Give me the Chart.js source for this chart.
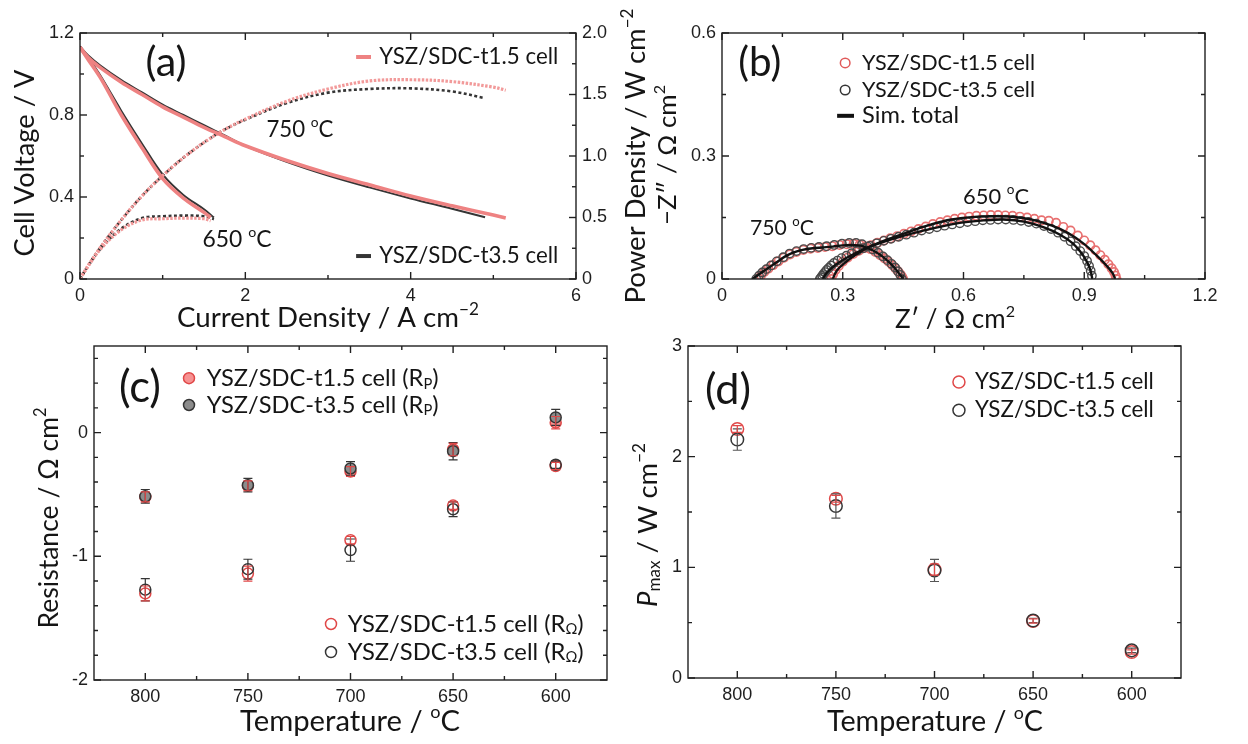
<!DOCTYPE html>
<html>
<head>
<meta charset="utf-8">
<script src="https://cdn.jsdelivr.net/npm/chart.js@4.4.0/dist/chart.umd.min.js"></script>
<style>
  html, body { margin: 0; padding: 0; background: #fff; }
  #page { position: relative; width: 1248px; height: 744px; overflow: hidden; }
  canvas { position: absolute; }
</style>
</head>
<body>
<div id="page">
  <canvas id="cvA" width="650" height="340" style="left:0px;top:0px"></canvas>
  <canvas id="cvB" width="598" height="340" style="left:650px;top:0px"></canvas>
  <canvas id="cvC" width="620" height="414" style="left:0px;top:330px"></canvas>
  <canvas id="cvD" width="628" height="414" style="left:620px;top:330px"></canvas>
</div>
<script>
// DADOS (a) - CURVAS I-V-P
const curA750t15 = [0, 0.1, 0.25, 0.5, 0.75, 1.0, 1.25, 1.5, 1.75, 2.0, 2.5, 3.0, 3.5, 4.0, 4.5, 5.0, 5.15];
const voltA750t15 = [1.13, 1.08, 1.03, 0.96, 0.90, 0.84, 0.79, 0.74, 0.695, 0.65, 0.578, 0.515, 0.46, 0.405, 0.357, 0.312, 0.298];
const powA750t15 = [0, 0.11, 0.26, 0.48, 0.675, 0.84, 0.985, 1.11, 1.215, 1.30, 1.445, 1.545, 1.61, 1.62, 1.605, 1.56, 1.535];

const curA750t35 = [0, 0.1, 0.25, 0.5, 0.75, 1.0, 1.25, 1.5, 1.75, 2.0, 2.5, 3.0, 3.5, 4.0, 4.5, 4.9];
const voltA750t35 = [1.135, 1.09, 1.04, 0.97, 0.91, 0.85, 0.80, 0.75, 0.70, 0.65, 0.572, 0.505, 0.447, 0.393, 0.343, 0.301];
const powA750t35 = [0, 0.11, 0.26, 0.48, 0.675, 0.84, 0.985, 1.11, 1.215, 1.295, 1.43, 1.515, 1.545, 1.55, 1.525, 1.47];

const curA650t15 = [0, 0.1, 0.25, 0.5, 0.75, 1.0, 1.25, 1.5, 1.58];
const voltA650t15 = [1.13, 1.07, 0.98, 0.80, 0.64, 0.49, 0.395, 0.325, 0.30];
const powA650t15 = [0, 0.107, 0.245, 0.40, 0.48, 0.49, 0.495, 0.49, 0.474];

const curA650t35 = [0, 0.1, 0.25, 0.5, 0.75, 1.0, 1.25, 1.5, 1.62];
const voltA650t35 = [1.135, 1.08, 0.99, 0.82, 0.66, 0.51, 0.41, 0.34, 0.30];
const powA650t35 = [0, 0.108, 0.248, 0.41, 0.495, 0.51, 0.515, 0.51, 0.486];

// DADOS (b) - NYQUIST
const zreB750t15 = [0.09, 0.097, 0.105, 0.115, 0.127, 0.14, 0.154, 0.169, 0.185, 0.202, 0.22, 0.238, 0.256, 0.274, 0.292, 0.31, 0.327, 0.342, 0.356, 0.369, 0.381, 0.393, 0.404, 0.414, 0.423, 0.431, 0.438, 0.444, 0.448, 0.45];
const zimB750t15 = [0, 0.009, 0.017, 0.025, 0.034, 0.043, 0.052, 0.06, 0.066, 0.071, 0.074, 0.076, 0.078, 0.08, 0.083, 0.085, 0.086, 0.084, 0.079, 0.073, 0.066, 0.058, 0.05, 0.042, 0.034, 0.026, 0.018, 0.011, 0.005, 0];
const zreB750t35 = [0.085, 0.092, 0.1, 0.11, 0.122, 0.136, 0.152, 0.168, 0.185, 0.203, 0.222, 0.241, 0.26, 0.279, 0.298, 0.316, 0.333, 0.348, 0.362, 0.375, 0.388, 0.4, 0.411, 0.421, 0.43, 0.437, 0.443, 0.447];
const zimB750t35 = [0, 0.008, 0.016, 0.024, 0.033, 0.043, 0.053, 0.062, 0.068, 0.073, 0.076, 0.078, 0.08, 0.083, 0.086, 0.088, 0.088, 0.085, 0.079, 0.072, 0.064, 0.055, 0.046, 0.037, 0.028, 0.019, 0.01, 0];
const zreB650t15 = [0.272, 0.276, 0.282, 0.29, 0.30, 0.312, 0.326, 0.34, 0.355, 0.37, 0.386, 0.402, 0.418, 0.435, 0.452, 0.47, 0.488, 0.506, 0.524, 0.542, 0.56, 0.578, 0.596, 0.614, 0.632, 0.65, 0.668, 0.686, 0.704, 0.722, 0.74, 0.758, 0.776, 0.794, 0.812, 0.83, 0.848, 0.866, 0.884, 0.9, 0.915, 0.928, 0.94, 0.951, 0.96, 0.968, 0.974, 0.978, 0.98];
const zimB650t15 = [0, 0.012, 0.022, 0.032, 0.042, 0.052, 0.061, 0.069, 0.076, 0.082, 0.088, 0.094, 0.099, 0.104, 0.11, 0.116, 0.122, 0.128, 0.134, 0.139, 0.143, 0.147, 0.15, 0.152, 0.154, 0.155, 0.156, 0.156, 0.155, 0.154, 0.152, 0.15, 0.147, 0.143, 0.142, 0.137, 0.127, 0.118, 0.106, 0.094, 0.082, 0.07, 0.058, 0.047, 0.036, 0.026, 0.017, 0.008, 0];
const zreB650t35 = [0.243, 0.246, 0.249, 0.252, 0.256, 0.26, 0.265, 0.271, 0.278, 0.287, 0.297, 0.309, 0.322, 0.336, 0.351, 0.367, 0.384, 0.402, 0.42, 0.439, 0.458, 0.477, 0.496, 0.515, 0.534, 0.553, 0.572, 0.591, 0.61, 0.629, 0.648, 0.667, 0.686, 0.705, 0.724, 0.743, 0.762, 0.781, 0.8, 0.818, 0.835, 0.851, 0.866, 0.879, 0.89, 0.9, 0.907, 0.912, 0.916, 0.919];
const zimB650t35 = [0, 0.004, 0.008, 0.012, 0.017, 0.022, 0.027, 0.033, 0.039, 0.045, 0.051, 0.057, 0.063, 0.069, 0.075, 0.081, 0.087, 0.093, 0.098, 0.103, 0.108, 0.113, 0.118, 0.122, 0.126, 0.13, 0.133, 0.136, 0.139, 0.141, 0.143, 0.144, 0.145, 0.145, 0.144, 0.142, 0.139, 0.135, 0.129, 0.122, 0.113, 0.103, 0.092, 0.08, 0.068, 0.056, 0.044, 0.032, 0.02, 0.008];
const simReB750 = [0.075, 0.082, 0.09, 0.1, 0.115, 0.135, 0.155, 0.175, 0.2, 0.225, 0.25, 0.275, 0.3, 0.32, 0.34, 0.355, 0.37, 0.385, 0.4, 0.415, 0.428, 0.438, 0.446, 0.45];
const simImB750 = [0, 0.004, 0.01, 0.017, 0.027, 0.04, 0.054, 0.064, 0.071, 0.075, 0.077, 0.079, 0.082, 0.083, 0.082, 0.078, 0.072, 0.064, 0.054, 0.041, 0.028, 0.016, 0.006, 0];
const simReB650t15 = [0.275, 0.285, 0.30, 0.33, 0.37, 0.42, 0.47, 0.52, 0.57, 0.62, 0.67, 0.72, 0.77, 0.82, 0.86, 0.90, 0.93, 0.955, 0.97, 0.977];
const simImB650t15 = [0, 0.02, 0.035, 0.058, 0.08, 0.1, 0.117, 0.133, 0.145, 0.151, 0.153, 0.152, 0.145, 0.13, 0.112, 0.085, 0.058, 0.033, 0.015, 0];
const simReB650t35 = [0.25, 0.26, 0.28, 0.31, 0.35, 0.40, 0.45, 0.50, 0.55, 0.60, 0.65, 0.70, 0.75, 0.80, 0.84, 0.87, 0.89, 0.905, 0.915, 0.92];
const simImB650t35 = [0, 0.015, 0.033, 0.052, 0.072, 0.09, 0.105, 0.118, 0.129, 0.138, 0.143, 0.145, 0.14, 0.126, 0.108, 0.088, 0.067, 0.045, 0.023, 0];

// DADOS (c) - RESISTENCIAS
const tempC = [800, 750, 700, 650, 600];
const rpC_t15 = [-0.52, -0.43, -0.315, -0.137, 0.08];
const rpErrC_t15 = [0.04, 0.04, 0.04, 0.05, 0.05];
const rpC_t35 = [-0.515, -0.425, -0.29, -0.15, 0.123];
const rpErrC_t35 = [0.055, 0.055, 0.055, 0.07, 0.065];
const rohmC_t15 = [-1.30, -1.14, -0.87, -0.59, -0.27];
const rohmErrC_t15 = [0.06, 0.06, 0.03, 0.03, 0.03];
const rohmC_t35 = [-1.27, -1.104, -0.95, -0.62, -0.26];
const rohmErrC_t35 = [0.09, 0.08, 0.09, 0.06, 0.03];

// DADOS (d) - POTENCIA MAXIMA
const tempD = [800, 750, 700, 650, 600];
const pmaxD_t15 = [2.25, 1.62, 0.98, 0.515, 0.235];
const pmaxErrD_t15 = [0.03, 0.03, 0.05, 0.02, 0.02];
const pmaxD_t35 = [2.155, 1.554, 0.972, 0.52, 0.25];
const pmaxErrD_t35 = [0.097, 0.11, 0.1, 0.02, 0.02];

// TICKS
const ticksA_x = [0, 2, 4, 6];
const minorA_x = [1, 3, 5];
const ticksA_y = [0, 0.4, 0.8, 1.2];
const minorA_y = [0.2, 0.6, 1.0];
const ticksA_y2 = [0, 0.5, 1.0, 1.5, 2.0];
const minorA_y2 = [0.25, 0.75, 1.25, 1.75];
const ticksB_x = [0, 0.3, 0.6, 0.9, 1.2];
const minorB_x = [0.15, 0.45, 0.75, 1.05];
const ticksB_y = [0, 0.3, 0.6];
const minorB_y = [0.15, 0.45];
const ticksT = [800, 750, 700, 650, 600];
const minorT = [775, 725, 675, 625];
const ticksC_y = [0, -1, -2];
const minorC_y = [0.6, 0.4, 0.2, -0.2, -0.4, -0.6, -0.8, -1.2, -1.4, -1.6, -1.8];
const ticksD_y = [0, 1, 2, 3];
const minorD_y = [0.5, 1.5, 2.5];

// ESTILO
const PINK = "#ee8282";
const PINK_PW = "#f29a9a";
const PINK_PT = "#e87070";
const RED = "#e04848";
const DARK = "#353535";
const GRAY_FILL = "#8c8c8c";
const TXT = "#151515";
const TEXT_FONT = "Lato, 'Liberation Sans', sans-serif";
const TICK_FONT = "'Liberation Sans', Arial, sans-serif";
const ROT = -Math.PI / 2;

function pts(xs, ys) {
  return xs.map((x, i) => ({ x: x, y: ys[i] }));
}

function fmt1(v) {
  return v === 0 ? "0" : v.toFixed(1);
}

// TEXTO COM SOBRESCRITO / SUBSCRITO
function partFont(kind, size) {
  const s = kind === "sup" || kind === "sub" ? size * 0.62 : size;
  const it = kind === "i" ? "italic " : "";
  return it + s.toFixed(2) + "px " + TEXT_FONT;
}

function richWidth(ctx, parts, size) {
  let w = 0;
  for (const [t, k] of parts) {
    ctx.font = partFont(k, size);
    w += ctx.measureText(t).width;
  }
  return w;
}

function drawRich(ctx, item, x, y) {
  let size = 20;
  size = (size * item.width) / richWidth(ctx, item.parts, size);
  const w = richWidth(ctx, item.parts, size);
  ctx.save();
  ctx.translate(x, y);
  if (item.rotate) ctx.rotate(item.rotate);
  let cx = item.align === "left" ? 0 : -w / 2;
  ctx.fillStyle = TXT;
  ctx.textBaseline = "middle";
  ctx.textAlign = "left";
  for (const [t, k] of item.parts) {
    ctx.font = partFont(k, size);
    const dy = k === "sup" ? -size * 0.32 : k === "sub" ? size * 0.24 : 0;
    ctx.fillText(t, cx, dy);
    cx += ctx.measureText(t).width;
  }
  ctx.restore();
}

function drawSymbol(ctx, chart, sym, y) {
  const xs = chart.scales.x;
  ctx.save();
  if (sym.type === "line") {
    ctx.strokeStyle = sym.color;
    ctx.lineWidth = sym.lw;
    ctx.beginPath();
    ctx.moveTo(xs.getPixelForValue(sym.x0), y);
    ctx.lineTo(xs.getPixelForValue(sym.x1), y);
    ctx.stroke();
  } else {
    ctx.beginPath();
    ctx.arc(xs.getPixelForValue(sym.x), y, sym.r, 0, Math.PI * 2);
    if (sym.fill) {
      ctx.fillStyle = sym.fill;
      ctx.fill();
    }
    ctx.strokeStyle = sym.color;
    ctx.lineWidth = 1.5;
    ctx.stroke();
  }
  ctx.restore();
}

// PLUGIN: MOLDURA, TICKS PARA DENTRO, BARRAS DE ERRO, TEXTOS
const panelPlugin = {
  id: "panel",
  afterDatasetsDraw(chart) {
    const ctx = chart.ctx;
    chart.data.datasets.forEach((ds, i) => {
      if (!ds.errors) return;
      const meta = chart.getDatasetMeta(i);
      const ys = chart.scales[meta.yAxisID];
      ctx.save();
      ctx.strokeStyle = ds.errColor;
      ctx.lineWidth = 1.2;
      meta.data.forEach((pt, j) => {
        const v = ds.data[j].y;
        const e = ds.errors[j];
        const y0 = ys.getPixelForValue(v - e);
        const y1 = ys.getPixelForValue(v + e);
        ctx.beginPath();
        ctx.moveTo(pt.x, y0);
        ctx.lineTo(pt.x, y1);
        ctx.moveTo(pt.x - 4.5, y0);
        ctx.lineTo(pt.x + 4.5, y0);
        ctx.moveTo(pt.x - 4.5, y1);
        ctx.lineTo(pt.x + 4.5, y1);
        ctx.stroke();
      });
      ctx.restore();
    });
  },
  afterDraw(chart) {
    const o = chart.options.plugins.panel;
    const ctx = chart.ctx;
    const a = chart.chartArea;
    ctx.save();
    ctx.strokeStyle = "#202020";
    ctx.lineWidth = 1.4;
    ctx.strokeRect(a.left, a.top, a.right - a.left, a.bottom - a.top);
    for (const t of o.ticks) {
      const s = chart.scales[t.axis];
      const marks = (vals, len) =>
        vals.forEach((v) => {
          const p = s.getPixelForValue(v);
          ctx.beginPath();
          for (const side of t.sides) {
            if (side === "bottom") { ctx.moveTo(p, a.bottom); ctx.lineTo(p, a.bottom - len); }
            if (side === "top") { ctx.moveTo(p, a.top); ctx.lineTo(p, a.top + len); }
            if (side === "left") { ctx.moveTo(a.left, p); ctx.lineTo(a.left + len, p); }
            if (side === "right") { ctx.moveTo(a.right, p); ctx.lineTo(a.right - len, p); }
          }
          ctx.stroke();
        });
      marks(t.major, 7);
      marks(t.minor, 4);
    }
    ctx.restore();
    for (const item of o.texts) {
      let x, y;
      if ("dx" in item) {
        x = chart.scales.x.getPixelForValue(item.dx);
        y = chart.scales[item.yAxis || "y"].getPixelForValue(item.dy);
      } else {
        x = item.px - o.origin[0];
        y = item.py - o.origin[1];
      }
      if (item.sym) drawSymbol(ctx, chart, item.sym, y);
      drawRich(ctx, item, x, y);
    }
  },
};
Chart.register(panelPlugin);

function axis(pos, min, max, ticks, fmt, extra) {
  return Object.assign(
    {
      type: "linear",
      position: pos,
      min: min,
      max: max,
      grid: { display: false, drawTicks: false },
      border: { display: false },
      ticks: {
        font: { family: TICK_FONT, size: 18 },
        color: "#1e1e1e",
        padding: 6,
        autoSkip: false,
        maxRotation: 0,
        callback: fmt,
      },
      afterBuildTicks: (s) => {
        s.ticks = ticks.map((v) => ({ value: v }));
      },
      afterFit: (s) => {
        if (s.isHorizontal()) s.height = 30;
        else s.width = 40;
        s.paddingLeft = s.paddingRight = s.paddingTop = s.paddingBottom = 0;
      },
    },
    extra || {}
  );
}

function makeChart(id, datasets, scales, padding, panel) {
  return new Chart(document.getElementById(id), {
    type: "scatter",
    data: { datasets: datasets },
    options: {
      responsive: false,
      animation: false,
      devicePixelRatio: 1,
      layout: { padding: padding },
      plugins: { legend: { display: false }, tooltip: { enabled: false }, panel: panel },
      scales: scales,
    },
  });
}

function lineDs(xs, ys, color, width, yAxis, dash) {
  return {
    data: pts(xs, ys),
    showLine: true,
    borderColor: color,
    borderWidth: width,
    borderDash: dash || [],
    pointRadius: 0,
    tension: 0.35,
    yAxisID: yAxis || "y",
  };
}

function pointDs(xs, ys, stroke, fill, r, errors, errColor, bw) {
  return {
    data: pts(xs, ys),
    showLine: false,
    pointStyle: "circle",
    pointRadius: r,
    pointBorderWidth: bw || 1.5,
    borderColor: stroke,
    backgroundColor: fill,
    errors: errors,
    errColor: errColor,
  };
}

// PAINEL (a)
makeChart(
  "cvA",
  [
    lineDs(curA750t15, voltA750t15, PINK, 3.6),
    lineDs(curA650t15, voltA650t15, PINK, 3.6),
    lineDs(curA750t15, powA750t15, PINK_PW, 3.2, "y2", [2.5, 1.5]),
    lineDs(curA650t15, powA650t15, PINK_PW, 3.2, "y2", [2.5, 1.5]),
    lineDs(curA750t35, voltA750t35, DARK, 2),
    lineDs(curA650t35, voltA650t35, DARK, 2),
    lineDs(curA750t35, powA750t35, DARK, 2.6, "y2", [3, 2.5]),
    lineDs(curA650t35, powA650t35, DARK, 2.6, "y2", [3, 2.5]),
  ],
  {
    x: axis("bottom", 0, 6, ticksA_x, (v) => String(v)),
    y: axis("left", 0, 1.2, ticksA_y, fmt1),
    y2: axis("right", 0, 2.0, ticksA_y2, fmt1),
  },
  { left: 40, right: 34, top: 33, bottom: 31 },
  {
    origin: [0, 0],
    ticks: [
      { axis: "x", major: ticksA_x, minor: minorA_x, sides: ["bottom", "top"] },
      { axis: "y", major: ticksA_y, minor: minorA_y, sides: ["left"] },
      { axis: "y2", major: ticksA_y2, minor: minorA_y2, sides: ["right"] },
    ],
    texts: [
      { parts: [["(a)", ""]], dx: 1.04, dy: 1.054, width: 41 },
      { parts: [["750 ", ""], ["o", "sup"], ["C", ""]], dx: 2.66, dy: 0.727, width: 67 },
      { parts: [["650 ", ""], ["o", "sup"], ["C", ""]], dx: 1.9, dy: 0.19, width: 69 },
      { parts: [["YSZ/SDC-t1.5 cell", ""]], dx: 3.62, dy: 1.083, width: 179, align: "left", sym: { type: "line", color: PINK, lw: 4, x0: 3.34, x1: 3.52 } },
      { parts: [["YSZ/SDC-t3.5 cell", ""]], dx: 3.62, dy: 0.112, width: 179, align: "left", sym: { type: "line", color: DARK, lw: 4, x0: 3.34, x1: 3.52 } },
      { parts: [["Current Density / A cm", ""], ["\u22122", "sup"]], px: 328, py: 318, width: 302 },
      { parts: [["Cell Voltage / V", ""]], px: 25, py: 163, width: 187, rotate: ROT },
      { parts: [["Power Density / W cm", ""], ["\u22122", "sup"]], px: 636, py: 156, width: 295, rotate: ROT },
    ],
  }
);

// PAINEL (b)
makeChart(
  "cvB",
  [
    lineDs(simReB750, simImB750, "#111", 2.4),
    lineDs(simReB650t15, simImB650t15, "#111", 2.4),
    lineDs(simReB650t35, simImB650t35, "#111", 2.4),
    pointDs(zreB750t35, zimB750t35, "#4a4a4a", "rgba(0,0,0,0)", 4.2, null, null, 1.4),
    pointDs(zreB650t35, zimB650t35, "#4a4a4a", "rgba(0,0,0,0)", 4.2, null, null, 1.4),
    pointDs(zreB750t15, zimB750t15, PINK_PT, "rgba(0,0,0,0)", 4.2, null, null, 1.7),
    pointDs(zreB650t15, zimB650t15, PINK_PT, "rgba(0,0,0,0)", 4.2, null, null, 1.7),
  ],
  {
    x: axis("bottom", 0, 1.2, ticksB_x, fmt1),
    y: axis("left", 0, 0.6, ticksB_y, fmt1),
  },
  { left: 32, right: 43, top: 33, bottom: 31 },
  {
    origin: [650, 0],
    ticks: [
      { axis: "x", major: ticksB_x, minor: minorB_x, sides: ["bottom", "top"] },
      { axis: "y", major: ticksB_y, minor: minorB_y, sides: ["left", "right"] },
    ],
    texts: [
      { parts: [["(b)", ""]], dx: 0.094, dy: 0.527, width: 43 },
      { parts: [["YSZ/SDC-t1.5 cell", ""]], dx: 0.348, dy: 0.527, width: 173, align: "left", sym: { type: "circle", color: "#e05a5a", r: 4.8, x: 0.306 } },
      { parts: [["YSZ/SDC-t3.5 cell", ""]], dx: 0.348, dy: 0.461, width: 173, align: "left", sym: { type: "circle", color: DARK, r: 4.8, x: 0.306 } },
      { parts: [["Sim. total", ""]], dx: 0.348, dy: 0.398, width: 97, align: "left", sym: { type: "line", color: "#111", lw: 4, x0: 0.286, x1: 0.328 } },
      { parts: [["750 ", ""], ["o", "sup"], ["C", ""]], dx: 0.149, dy: 0.124, width: 64 },
      { parts: [["650 ", ""], ["o", "sup"], ["C", ""]], dx: 0.681, dy: 0.2, width: 66 },
      { parts: [["\u2212Z\u2033 / \u03a9 cm", ""], ["2", "sup"]], px: 668, py: 155, width: 140, rotate: ROT },
      { parts: [["Z\u2032 / \u03a9 cm", ""], ["2", "sup"]], px: 955, py: 320, width: 120 },
    ],
  }
);

// PAINEL (c)
makeChart(
  "cvC",
  [
    pointDs(tempC, rohmC_t35, DARK, "rgba(0,0,0,0)", 5.5, rohmErrC_t35, DARK),
    pointDs(tempC, rohmC_t15, RED, "rgba(0,0,0,0)", 5.5, rohmErrC_t15, RED),
    pointDs(tempC, rpC_t35, DARK, GRAY_FILL, 5.5, rpErrC_t35, DARK),
    pointDs(tempC, rpC_t15, RED, "rgba(245,140,140,0.95)", 5.5, rpErrC_t15, RED),
  ],
  {
    x: axis("bottom", 575, 825, ticksT, (v) => String(v), { reverse: true }),
    y: axis("left", -2, 0.7, ticksC_y, (v) => String(v)),
  },
  { left: 54, right: 13, top: 16, bottom: 34 },
  {
    origin: [0, 330],
    ticks: [
      { axis: "x", major: ticksT, minor: minorT, sides: ["bottom", "top"] },
      { axis: "y", major: ticksC_y, minor: minorC_y, sides: ["left", "right"] },
    ],
    texts: [
      { parts: [["(c)", ""]], dx: 802.6, dy: 0.36, width: 42 },
      { parts: [["YSZ/SDC-t1.5 cell (R", ""], ["P", "sub"], [")", ""]], dx: 770.1, dy: 0.44, width: 232, align: "left", sym: { type: "circle", color: RED, fill: "rgba(245,140,140,0.95)", r: 5.5, x: 778.7 } },
      { parts: [["YSZ/SDC-t3.5 cell (R", ""], ["P", "sub"], [")", ""]], dx: 770.1, dy: 0.223, width: 232, align: "left", sym: { type: "circle", color: DARK, fill: GRAY_FILL, r: 5.5, x: 778.7 } },
      { parts: [["YSZ/SDC-t1.5 cell (R", ""], ["\u03a9", "sub"], [")", ""]], dx: 701.4, dy: -1.547, width: 236, align: "left", sym: { type: "circle", color: RED, r: 5.5, x: 709.5 } },
      { parts: [["YSZ/SDC-t3.5 cell (R", ""], ["\u03a9", "sub"], [")", ""]], dx: 701.4, dy: -1.774, width: 236, align: "left", sym: { type: "circle", color: DARK, r: 5.5, x: 709.5 } },
      { parts: [["Resistance / \u03a9 cm", ""], ["2", "sup"]], px: 49, py: 518, width: 221, rotate: ROT },
      { parts: [["Temperature / ", ""], ["o", "sup"], ["C", ""]], px: 350, py: 722, width: 220 },
    ],
  }
);

// PAINEL (d)
makeChart(
  "cvD",
  [
    pointDs(tempD, pmaxD_t35, DARK, "rgba(0,0,0,0)", 6.3, pmaxErrD_t35, "#555"),
    pointDs(tempD, pmaxD_t15, RED, "rgba(0,0,0,0)", 6.3, pmaxErrD_t15, RED),
  ],
  {
    x: axis("bottom", 575, 825, ticksT, (v) => String(v), { reverse: true }),
    y: axis("left", 0, 3, ticksD_y, (v) => String(v)),
  },
  { left: 28, right: 67, top: 16, bottom: 36 },
  {
    origin: [620, 330],
    ticks: [
      { axis: "x", major: ticksT, minor: minorT, sides: ["bottom", "top"] },
      { axis: "y", major: ticksD_y, minor: minorD_y, sides: ["left", "right"] },
    ],
    texts: [
      { parts: [["(d)", ""]], dx: 804.7, dy: 2.6, width: 46 },
      { parts: [["YSZ/SDC-t1.5 cell", ""]], dx: 679.5, dy: 2.675, width: 179, align: "left", sym: { type: "circle", color: RED, r: 6, x: 687.6 } },
      { parts: [["YSZ/SDC-t3.5 cell", ""]], dx: 679.5, dy: 2.42, width: 179, align: "left", sym: { type: "circle", color: DARK, r: 6, x: 687.6 } },
      { parts: [["P", "i"], ["max", "sub"], [" / W cm", ""], ["\u22122", "sup"]], px: 648, py: 525, width: 164, rotate: ROT },
      { parts: [["Temperature / ", ""], ["o", "sup"], ["C", ""]], px: 935, py: 722, width: 216 },
    ],
  }
);
</script>
</body>
</html>
